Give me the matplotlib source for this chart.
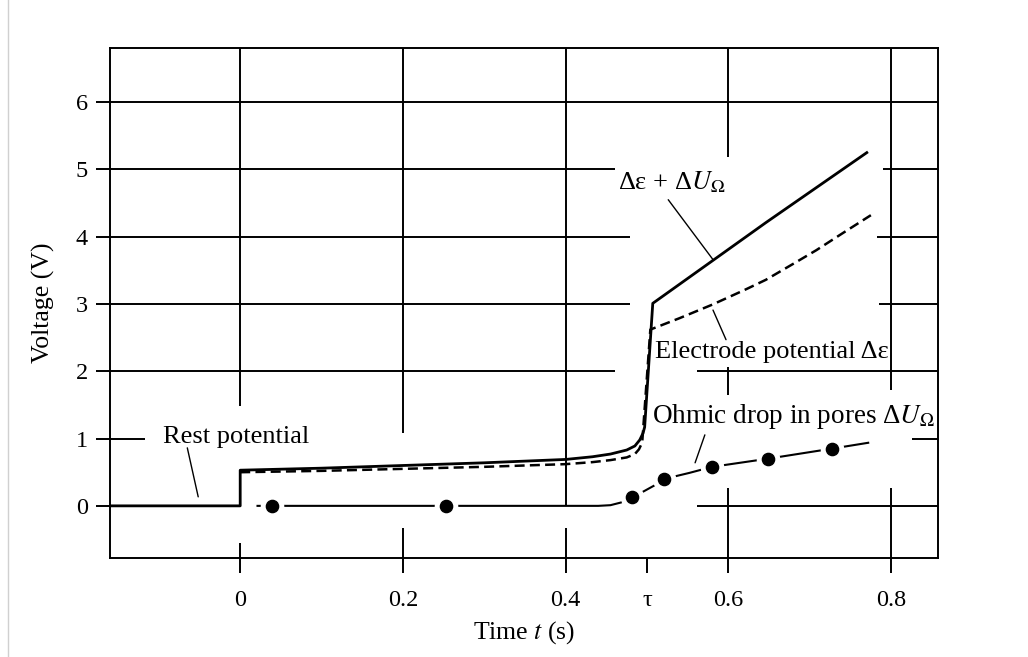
import matplotlib
matplotlib.use('Agg')
import matplotlib.pyplot as plt
from matplotlib.lines import Line2D

plt.rcParams['font.family'] = ['Liberation Serif', 'DejaVu Serif']
plt.rcParams['mathtext.fontset'] = 'stix'

# ---------------- data ----------------
XMIN, XMAX = -0.16, 0.8575
YMIN, YMAX = -0.775, 6.805

# total voltage  Δε + ΔU_Ω  (includes rest potential for t < 0 and the jump at t = 0)
t_sum = [XMIN, 0.0, 0.0, 0.1, 0.2, 0.3, 0.4, 0.433, 0.455, 0.475, 0.485, 0.491,
         0.495, 0.497, 0.507, 0.58, 0.646, 0.708, 0.77]
v_sum = [0.0, 0.0, 0.53, 0.56, 0.60, 0.64, 0.69, 0.73, 0.77, 0.83, 0.89, 0.98,
         1.08, 1.17, 3.01, 3.64, 4.21, 4.73, 5.25]

# electrode potential Δε
t_eps = [0.0, 0.1, 0.2, 0.3, 0.4, 0.433, 0.455, 0.475, 0.485, 0.490, 0.494,
         0.504, 0.54, 0.58, 0.62, 0.646, 0.68, 0.708, 0.74, 0.775]
v_eps = [0.50, 0.52, 0.55, 0.58, 0.62, 0.65, 0.68, 0.72, 0.77, 0.84, 0.94,
         2.62, 2.79, 2.99, 3.21, 3.36, 3.60, 3.80, 4.05, 4.32]

# ohmic drop in pores ΔU_Ω
t_ohm = [0.02, 0.039, 0.15, 0.253, 0.35, 0.44, 0.455, 0.468, 0.481, 0.495,
         0.51, 0.521, 0.552, 0.58, 0.648, 0.727, 0.773]
v_ohm = [0.0, 0.0, 0.0, 0.0, 0.0, 0.0, 0.01, 0.05, 0.13, 0.21,
         0.31, 0.40, 0.49, 0.58, 0.70, 0.85, 0.94]
t_dots = [0.039, 0.253, 0.481, 0.521, 0.58, 0.648, 0.727]
v_dots = [0.0, 0.0, 0.13, 0.40, 0.58, 0.70, 0.85]

xticks = [0.0, 0.2, 0.4, 0.5, 0.6, 0.8]
xticklabels = ['0', '0.2', '0.4', 'τ', '0.6', '0.8']
yticks = [0, 1, 2, 3, 4, 5, 6]

# visible spans of the (hand-broken) grid lines
hgrid = {6: [(XMIN, XMAX)],
         5: [(XMIN, 0.46), (0.79, XMAX)],
         4: [(XMIN, 0.479), (0.782, XMAX)],
         3: [(XMIN, 0.479), (0.785, XMAX)],
         2: [(XMIN, 0.461), (0.561, XMAX)],
         1: [(XMIN, -0.117), (0.826, XMAX)],
         0: [(0.561, XMAX)]}
vgrid = {0.0: [(1.49, YMAX), (YMIN, -0.55)],
         0.2: [(1.085, YMAX), (YMIN, -0.327)],
         0.4: [(0.0, YMAX), (YMIN, -0.327)],
         0.6: [(5.19, YMAX), (1.65, 2.07), (YMIN, 0.27)],
         0.8: [(1.72, YMAX), (YMIN, 0.27)]}

# ---------------- figure ----------------
W, H = 1028, 657
fig = plt.figure(figsize=(W / 100, H / 100), dpi=100)
ax = fig.add_axes([110 / W, 1 - 558 / H, 828 / W, 510 / H])
ax.set_xlim(XMIN, XMAX)
ax.set_ylim(YMIN, YMAX)

GLW = 1.4
for y, spans in hgrid.items():
    for a, b in spans:
        ax.plot([a, b], [y, y], color='black', lw=GLW, solid_capstyle='butt', zorder=1)
for x, spans in vgrid.items():
    for a, b in spans:
        ax.plot([x, x], [a, b], color='black', lw=GLW, solid_capstyle='butt', zorder=1)

ax.plot(t_sum, v_sum, color='black', lw=2.0, zorder=3, solid_joinstyle='round')
ax.plot(t_eps, v_eps, color='black', lw=1.8, ls=(0, (4, 2.1)), zorder=3)
ax.plot(t_ohm, v_ohm, color='black', lw=1.5, zorder=3, solid_capstyle='butt')
ax.plot(t_dots, v_dots, ls='none', marker='o', ms=16, mfc='white', mec='white', zorder=4)
ax.plot(t_dots, v_dots, ls='none', marker='o', ms=8.8, mfc='black', mec='black', zorder=5)

# labels and leader lines
FS = 19
ax.text(-0.0946, 0.936, 'Rest potential', fontsize=FS, ha='left', va='baseline')
ax.text(0.464, 4.70, r'Δε + Δ$U_\Omega$', fontsize=FS, ha='left', va='baseline')
ax.text(0.51, 2.20, 'Electrode potential Δε', fontsize=FS, ha='left', va='baseline')
ax.text(0.506, 1.23, r'Ohmic drop in pores Δ$U_\Omega$', fontsize=19.5, ha='left', va='baseline')

lead = dict(arrowstyle='-', lw=1.0, color='black', shrinkA=0, shrinkB=0)
ax.annotate('', xy=(-0.0516, 0.134), xytext=(-0.065, 0.862), arrowprops=lead)
ax.annotate('', xy=(0.581, 3.66), xytext=(0.526, 4.55), arrowprops=lead)
ax.annotate('', xy=(0.597, 2.47), xytext=(0.581, 2.91), arrowprops=lead)
ax.annotate('', xy=(0.559, 0.64), xytext=(0.571, 1.055), arrowprops=lead)

# axes styling
for side in ['top', 'right', 'bottom', 'left']:
    ax.spines[side].set_linewidth(GLW)
ax.set_xticks(xticks)
ax.set_xticklabels(xticklabels)
ax.set_yticks(yticks)
ax.tick_params(direction='out', width=GLW, labelsize=17.5)
ax.tick_params(axis='x', length=11, pad=12)
ax.tick_params(axis='y', length=10, pad=6)
ax.set_xlabel('Time $t$ (s)', fontsize=18.5, labelpad=6)
ax.set_ylabel('Voltage (V)', fontsize=18.5, labelpad=15)

# faint page border on the left
fig.add_artist(Line2D([8 / W, 8 / W], [0.0, 1.0], color='#d0d0d0', lw=1.0))

fig.savefig('out.png', dpi=100)
